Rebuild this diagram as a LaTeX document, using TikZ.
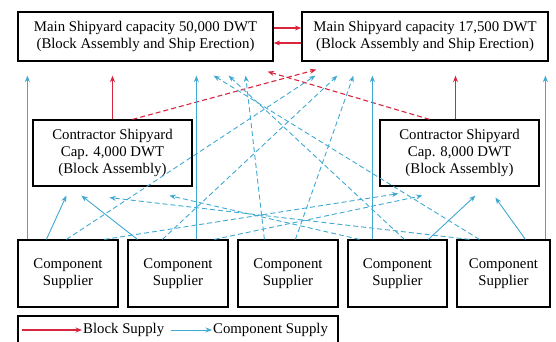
\documentclass[tikz,border=0pt]{standalone}
\usepackage{fontspec}
\setmainfont{Liberation Serif}
\usetikzlibrary{arrows.meta, positioning}
\definecolor{blockcolor}{HTML}{D7263D}
\definecolor{compcolor}{HTML}{3FA9D2}
\newcommand{\boxfont}{\fontsize{14.8}{17}\selectfont}

\begin{document}
\begin{tikzpicture}[x=1pt, y=-1pt,
    yard/.style={rectangle, draw=black, line width=1.2pt, inner sep=0pt,
                 align=center, font=\boxfont},
    block/.style={-{Stealth[length=6.5pt, width=5pt]}, draw=blockcolor, line width=1.1pt},
    comp/.style={-{Stealth[length=6.5pt, width=5pt]}, draw=compcolor, line width=0.9pt},
    far/.style={dash pattern=on 5pt off 3pt}
]
    \useasboundingbox (0,0) rectangle (556,342);

    % main shipyards
    \node[yard, minimum width=255pt, minimum height=49pt] (main50) at (145.5,36.5)
        {Main Shipyard capacity 50,000 DWT\\(Block Assembly and Ship Erection)};
    \node[yard, minimum width=246pt, minimum height=49pt] (main17) at (425,36.5)
        {Main Shipyard capacity 17,500 DWT\\(Block Assembly and Ship Erection)};

    % contractor shipyards
    \node[yard, minimum width=159pt, minimum height=66pt] (con4) at (112.5,153)
        {Contractor Shipyard\\Cap. 4,000 DWT\\(Block Assembly)};
    \node[yard, minimum width=159pt, minimum height=66pt] (con8) at (459.5,153)
        {Contractor Shipyard\\Cap. 8,000 DWT\\(Block Assembly)};

    % suppliers
    \foreach \n/\x/\w in {1/68/100, 2/178/100, 3/288/100, 4/397.5/99, 5/503.5/93}
        \node[yard, minimum width=\w pt, minimum height=67pt] (sup\n) at (\x,273.5)
            {Component\\Supplier};

    % block supply
    \draw[block] ([yshift=8.5pt]main50.east) -- ([yshift=8.5pt]main17.west);
    \draw[block] ([yshift=-6.5pt]main17.west) -- ([yshift=-6.5pt]main50.east);
    \draw[block] (con4.north) -- ([yshift=-14pt]con4.north |- main50.south);
    \draw[block] ([xshift=-4pt]con8.north) -- ([xshift=-4pt, yshift=-14pt]con8.north |- main17.south);
    \draw[block, far] ([xshift=20pt]con4.north) -- ([xshift=15pt, yshift=-8pt]main17.south west);
    \draw[block, far] ([xshift=-30pt]con8.north) -- ([xshift=-6pt, yshift=-10pt]main50.south east);

    % component supply, straight up
    \draw[comp] ([xshift=10pt]sup1.north west) -- ([xshift=10pt, yshift=-14pt]sup1.north west |- main50.south);
    \draw[comp] ([xshift=69pt]sup2.north west) -- ([xshift=69pt, yshift=-14pt]sup2.north west |- main50.south);
    \draw[comp] ([xshift=25pt]sup4.north west) -- ([xshift=25pt, yshift=-14pt]sup4.north west |- main17.south);
    \draw[comp] ([xshift=89pt]sup5.north west) -- ([xshift=89pt, yshift=-14pt]sup5.north west |- main17.south);

    % component supply to contractors
    \draw[comp] ([xshift=29pt]sup1.north west) -- ([xshift=34pt, yshift=-9pt]con4.south west);
    \draw[comp] ([xshift=10pt]sup2.north west) -- ([xshift=49pt, yshift=-9pt]con4.south west);
    \draw[comp] ([xshift=81pt]sup4.north west) -- ([xshift=96pt, yshift=-9pt]con8.south west);
    \draw[comp] ([xshift=69pt]sup5.north west) -- ([xshift=116pt, yshift=-11pt]con8.south west);
    \draw[comp, far] ([xshift=87pt]sup1.north west) -- ([xshift=19pt, yshift=-7pt]con8.south west);
    \draw[comp, far] ([xshift=87pt]sup2.north west) -- ([xshift=43pt, yshift=-9pt]con8.south west);
    \draw[comp, far] ([xshift=12pt]sup4.north west) -- ([xshift=137pt, yshift=-9pt]con4.south west);
    \draw[comp, far] ([xshift=13pt]sup5.north west) -- ([xshift=77pt, yshift=-11pt]con4.south west);

    % component supply, across to the main yards
    \draw[comp, far] ([xshift=49pt]sup1.north west) -- ([xshift=14pt, yshift=-14pt]main17.south west);
    \draw[comp, far] ([xshift=35pt]sup2.north west) -- ([xshift=36pt, yshift=-14pt]main17.south west);
    \draw[comp, far] ([xshift=58pt]sup3.north west) -- ([xshift=52pt, yshift=-14pt]main17.south west);
    \draw[comp, far] ([xshift=27pt]sup3.north west) -- ([xshift=-28pt, yshift=-14pt]main50.south east);
    \draw[comp, far] ([xshift=57pt]sup4.north west) -- ([xshift=-45pt, yshift=-14pt]main50.south east);
    \draw[comp, far] ([xshift=23pt]sup5.north west) -- ([xshift=-60pt, yshift=-14pt]main50.south east);

    % legend
    \node[draw, line width=1.2pt, minimum width=320pt, minimum height=29pt] (legend) at (178,330.5) {};
    \node[font=\boxfont, anchor=west, inner sep=1pt] (lbs) at (82,330) {Block Supply};
    \node[font=\boxfont, anchor=west, inner sep=1pt] (lcs) at (212,330) {Component Supply};
    \draw[block] ([xshift=5pt]legend.west |- lbs.west) -- (lbs.west);
    \draw[comp] ([xshift=6pt]lbs.east) -- (lcs.west);
\end{tikzpicture}
\end{document}
